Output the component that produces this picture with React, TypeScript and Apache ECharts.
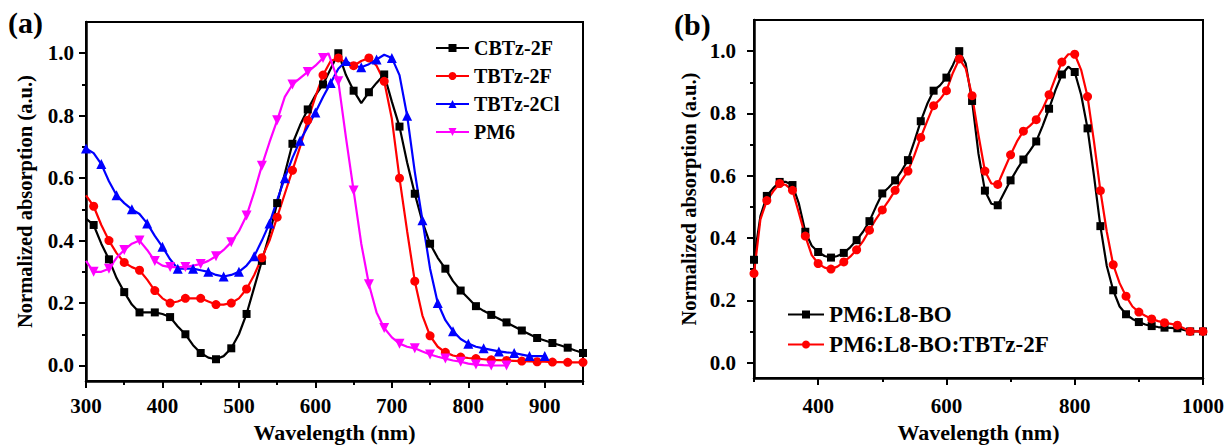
import React, { useEffect, useRef } from 'react';
import * as echarts from 'echarts';

// ---------- Panel (a) data ----------
const wlA = [300, 310, 320, 330, 340, 350, 360, 370, 380, 390, 400, 410, 420, 430, 440, 450, 460, 470, 480, 490, 500, 510, 520, 530, 540, 550, 560, 570, 580, 590, 600, 610, 620, 630, 640, 650, 660, 670, 680, 690, 700, 710, 720, 730, 740, 750, 760, 770, 780, 790, 800, 810, 820, 830, 840, 850, 860, 870, 880, 890, 900, 910, 920, 930, 940, 950];
const cbtz2f = [0.47, 0.45, 0.39, 0.34, 0.28, 0.235, 0.195, 0.17, 0.17, 0.17, 0.165, 0.155, 0.125, 0.1, 0.065, 0.04, 0.025, 0.02, 0.03, 0.055, 0.1, 0.165, 0.25, 0.335, 0.42, 0.52, 0.615, 0.71, 0.77, 0.82, 0.865, 0.9, 0.95, 1.0, 0.93, 0.88, 0.84, 0.875, 0.905, 0.932, 0.845, 0.765, 0.65, 0.55, 0.46, 0.39, 0.345, 0.31, 0.27, 0.24, 0.215, 0.19, 0.175, 0.162, 0.15, 0.138, 0.125, 0.112, 0.1, 0.088, 0.08, 0.072, 0.065, 0.057, 0.048, 0.04];
const tbtz2f = [0.545, 0.51, 0.45, 0.4, 0.36, 0.33, 0.315, 0.305, 0.275, 0.24, 0.215, 0.2, 0.205, 0.215, 0.215, 0.215, 0.205, 0.195, 0.195, 0.2, 0.215, 0.245, 0.29, 0.345, 0.4, 0.475, 0.55, 0.625, 0.7, 0.785, 0.86, 0.93, 0.975, 0.985, 0.97, 0.96, 0.975, 0.985, 0.96, 0.91, 0.79, 0.6, 0.43, 0.27, 0.16, 0.095, 0.06, 0.042, 0.032, 0.027, 0.024, 0.022, 0.02, 0.018, 0.017, 0.016, 0.015, 0.014, 0.013, 0.012, 0.012, 0.011, 0.011, 0.01, 0.01, 0.01];
const wlCl = [300, 310, 320, 330, 340, 350, 360, 370, 380, 390, 400, 410, 420, 430, 440, 450, 460, 470, 480, 490, 500, 510, 520, 530, 540, 550, 560, 570, 580, 590, 600, 610, 620, 630, 640, 650, 660, 670, 680, 690, 700, 710, 720, 730, 740, 750, 760, 770, 780, 790, 800, 810, 820, 830, 840, 850, 860, 870, 880, 890, 900];
const tbtz2cl = [0.695, 0.68, 0.645, 0.59, 0.545, 0.52, 0.5, 0.485, 0.455, 0.415, 0.38, 0.34, 0.31, 0.31, 0.31, 0.305, 0.3, 0.29, 0.285, 0.29, 0.3, 0.32, 0.35, 0.4, 0.455, 0.53, 0.6, 0.665, 0.72, 0.765, 0.81, 0.86, 0.905, 0.95, 0.975, 0.96, 0.955, 0.965, 0.98, 0.995, 0.985, 0.93, 0.8, 0.62, 0.465, 0.31, 0.2, 0.145, 0.11, 0.085, 0.07, 0.06, 0.055, 0.05, 0.045, 0.042, 0.04, 0.035, 0.03, 0.03, 0.03];
const wlPm6 = [300, 310, 320, 330, 340, 350, 360, 370, 380, 390, 400, 410, 420, 430, 440, 450, 460, 470, 480, 490, 500, 510, 520, 530, 540, 550, 560, 570, 580, 590, 600, 610, 617, 630, 640, 650, 660, 670, 680, 690, 700, 710, 720, 730, 740, 750, 760, 770, 780, 790, 800, 810, 820, 830, 840, 850];
const pm6 = [0.335, 0.3, 0.3, 0.31, 0.345, 0.37, 0.39, 0.4, 0.37, 0.335, 0.32, 0.315, 0.315, 0.315, 0.32, 0.325, 0.335, 0.35, 0.37, 0.395, 0.43, 0.48, 0.555, 0.64, 0.715, 0.785, 0.86, 0.9, 0.92, 0.94, 0.96, 0.985, 1.0, 0.91, 0.73, 0.56, 0.39, 0.26, 0.17, 0.12, 0.09, 0.07, 0.06, 0.055, 0.045, 0.035, 0.028, 0.022, 0.016, 0.012, 0.006, 0.003, 0.001, 0.0, 0.0, 0.0];

// ---------- Panel (b) data ----------
const wlB = [300, 310, 320, 330, 340, 350, 360, 370, 380, 390, 400, 410, 420, 430, 440, 450, 460, 470, 480, 490, 500, 510, 520, 530, 540, 550, 560, 570, 580, 590, 600, 610, 620, 630, 640, 650, 660, 670, 680, 690, 700, 710, 720, 730, 740, 750, 760, 770, 780, 790, 800, 810, 820, 830, 840, 850, 860, 870, 880, 890, 900, 910, 920, 930, 940, 950, 960, 970, 980, 990, 1000];
const pm6L8bo = [0.33, 0.47, 0.535, 0.56, 0.58, 0.58, 0.57, 0.51, 0.42, 0.375, 0.355, 0.342, 0.337, 0.342, 0.352, 0.37, 0.393, 0.42, 0.454, 0.5, 0.543, 0.562, 0.585, 0.615, 0.65, 0.71, 0.775, 0.83, 0.873, 0.89, 0.915, 0.955, 1.0, 0.96, 0.84, 0.67, 0.552, 0.51, 0.505, 0.545, 0.585, 0.62, 0.652, 0.68, 0.71, 0.76, 0.815, 0.875, 0.925, 0.95, 0.933, 0.86, 0.752, 0.6, 0.438, 0.31, 0.232, 0.18, 0.155, 0.14, 0.13, 0.122, 0.117, 0.114, 0.112, 0.111, 0.11, 0.105, 0.1, 0.1, 0.1];
const pm6L8boTbtz = [0.286, 0.46, 0.52, 0.55, 0.575, 0.57, 0.553, 0.48, 0.406, 0.345, 0.318, 0.305, 0.3, 0.308, 0.323, 0.34, 0.362, 0.39, 0.425, 0.46, 0.49, 0.52, 0.553, 0.585, 0.615, 0.665, 0.723, 0.775, 0.825, 0.845, 0.873, 0.93, 0.975, 0.945, 0.857, 0.73, 0.615, 0.575, 0.572, 0.62, 0.667, 0.71, 0.743, 0.76, 0.78, 0.815, 0.86, 0.915, 0.965, 0.99, 0.99, 0.94, 0.854, 0.71, 0.552, 0.42, 0.314, 0.255, 0.213, 0.18, 0.162, 0.15, 0.14, 0.133, 0.128, 0.124, 0.12, 0.11, 0.1, 0.1, 0.1];

// ---------- Ticks ----------
const xTicksA = [300, 400, 500, 600, 700, 800, 900];
const xMinorA = [350, 450, 550, 650, 750, 850, 950];
const xTicksB = [400, 600, 800, 1000];
const xMinorB = [300, 500, 700, 900];
const yTicks = [0, 0.2, 0.4, 0.6, 0.8, 1.0];
const yMinor = [0.1, 0.3, 0.5, 0.7, 0.9];

const FONT = 'Liberation Serif';
const pair = (xs: number[], ys: number[]) => xs.map((x, i) => [x, ys[i]]);

export default function App() {
  const ref = useRef<HTMLDivElement>(null);
  useEffect(() => {
    const chart = echarts.init(ref.current!, null, { renderer: 'svg' });
    const axisLineStyle = { color: '#000', width: 2.5 };
    const mainX = (gridIndex: number, min: number, max: number, ticks: number[], name: string, gap: number, margin: number) => ({
      type: 'value', gridIndex, min, max, name, nameLocation: 'middle', nameGap: gap,
      nameTextStyle: { fontFamily: FONT, fontWeight: 'bold', fontSize: 22, color: '#000' },
      axisLine: { show: true, onZero: false, lineStyle: axisLineStyle },
      axisTick: { show: true, inside: false, length: 7, customValues: ticks, lineStyle: { color: '#000', width: 2 } },
      axisLabel: { show: true, customValues: ticks, margin, formatter: (v: number) => String(v), fontFamily: FONT, fontWeight: 'bold', fontSize: 21, color: '#000' },
      splitLine: { show: false },
    });
    const minorX = (gridIndex: number, min: number, max: number, ticks: number[]) => ({
      type: 'value', gridIndex, min, max, position: 'bottom',
      axisLine: { show: false, onZero: false },
      axisTick: { show: true, inside: false, length: 4, customValues: ticks, lineStyle: { color: '#000', width: 2 } },
      axisLabel: { show: false },
      splitLine: { show: false },
    });
    const mainY = (gridIndex: number, gap: number, margin: number) => ({
      type: 'value', gridIndex, min: -0.05, max: 1.1,
      name: 'Normalized absorption (a.u.)', nameLocation: 'middle', nameGap: gap,
      nameTextStyle: { fontFamily: FONT, fontWeight: 'bold', fontSize: 20.5, color: '#000' },
      axisLine: { show: true, onZero: false, lineStyle: axisLineStyle },
      axisTick: { show: true, inside: false, length: 7, customValues: yTicks, lineStyle: { color: '#000', width: 2 } },
      axisLabel: { show: true, customValues: yTicks, margin, formatter: (v: number) => v.toFixed(1), fontFamily: FONT, fontWeight: 'bold', fontSize: 21, color: '#000' },
      splitLine: { show: false },
    });
    const minorY = (gridIndex: number) => ({
      type: 'value', gridIndex, min: -0.05, max: 1.1, position: 'left',
      axisLine: { show: false, onZero: false },
      axisTick: { show: true, inside: false, length: 4, customValues: yMinor, lineStyle: { color: '#000', width: 2 } },
      axisLabel: { show: false },
      splitLine: { show: false },
    });
    const mark = (phase: number, size: number) => (v: number[]) => (Math.round(v[0]) % 20 === phase ? size : 0);
    const line = (name: string, data: number[][], color: string, symbol: string, phase: number, size: number, xi: number) => ({
      name, type: 'line', data, xAxisIndex: xi, yAxisIndex: xi,
      symbol, symbolSize: mark(phase, size), showAllSymbol: true,
      lineStyle: { color, width: 2.2 }, itemStyle: { color },
      emphasis: { disabled: true }, z: 3,
    });
    const invTri = 'path://M0,0 L10,0 L5,9 Z';
    chart.setOption({
      animation: false,
      backgroundColor: '#fff',
      grid: [
        { left: 86, right: 644, top: 22, bottom: 61, show: true, borderColor: '#000', borderWidth: 2, backgroundColor: 'transparent' },
        { left: 754, right: 24, top: 20, bottom: 65, show: true, borderColor: '#000', borderWidth: 2, backgroundColor: 'transparent' },
      ],
      xAxis: [
        mainX(0, 300, 950, xTicksA, 'Wavelength (nm)', 37, 14),
        minorX(0, 300, 950, xMinorA),
        mainX(1, 300, 1000, xTicksB, 'Wavelength (nm)', 39, 17),
        minorX(1, 300, 1000, xMinorB),
      ],
      yAxis: [mainY(0, 51, 12), minorY(0), mainY(1, 55, 18), minorY(1)],
      legend: [
        {
          data: ['CBTz-2F', 'TBTz-2F', 'TBTz-2Cl', 'PM6'], orient: 'vertical', left: 430, top: 33,
          itemWidth: 33, itemHeight: 10, itemGap: 8, selectedMode: false,
          textStyle: { fontFamily: FONT, fontWeight: 'bold', fontSize: 20, color: '#000' },
        },
        {
          data: ['PM6:L8-BO', 'PM6:L8-BO:TBTz-2F'], orient: 'vertical', left: 782, top: 298,
          itemWidth: 36, itemHeight: 10, itemGap: 7, selectedMode: false,
          textStyle: { fontFamily: FONT, fontWeight: 'bold', fontSize: 23, color: '#000' },
        },
      ],
      graphic: [
        { type: 'text', left: 8, top: 7, style: { text: '(a)', fontFamily: FONT, fontWeight: 'bold', fontSize: 30, fill: '#000' } },
        { type: 'text', left: 674, top: 9, style: { text: '(b)', fontFamily: FONT, fontWeight: 'bold', fontSize: 30, fill: '#000' } },
      ],
      series: [
        line('CBTz-2F', pair(wlA, cbtz2f), '#000000', 'rect', 10, 8, 0),
        line('TBTz-2F', pair(wlA, tbtz2f), '#ff0000', 'circle', 10, 9, 0),
        line('TBTz-2Cl', pair(wlCl, tbtz2cl), '#0000ff', 'triangle', 0, 10, 0),
        line('PM6', pair(wlPm6, pm6), '#ff00ff', invTri, 10, 10, 0),
        line('PM6:L8-BO', pair(wlB, pm6L8bo), '#000000', 'rect', 0, 8, 2),
        line('PM6:L8-BO:TBTz-2F', pair(wlB, pm6L8boTbtz), '#ff0000', 'circle', 0, 9, 2),
      ],
    });
    return () => chart.dispose();
  }, []);
  return <div ref={ref} style={{ position: 'fixed', left: 0, top: 0, width: 1227, height: 448 }} />;
}
